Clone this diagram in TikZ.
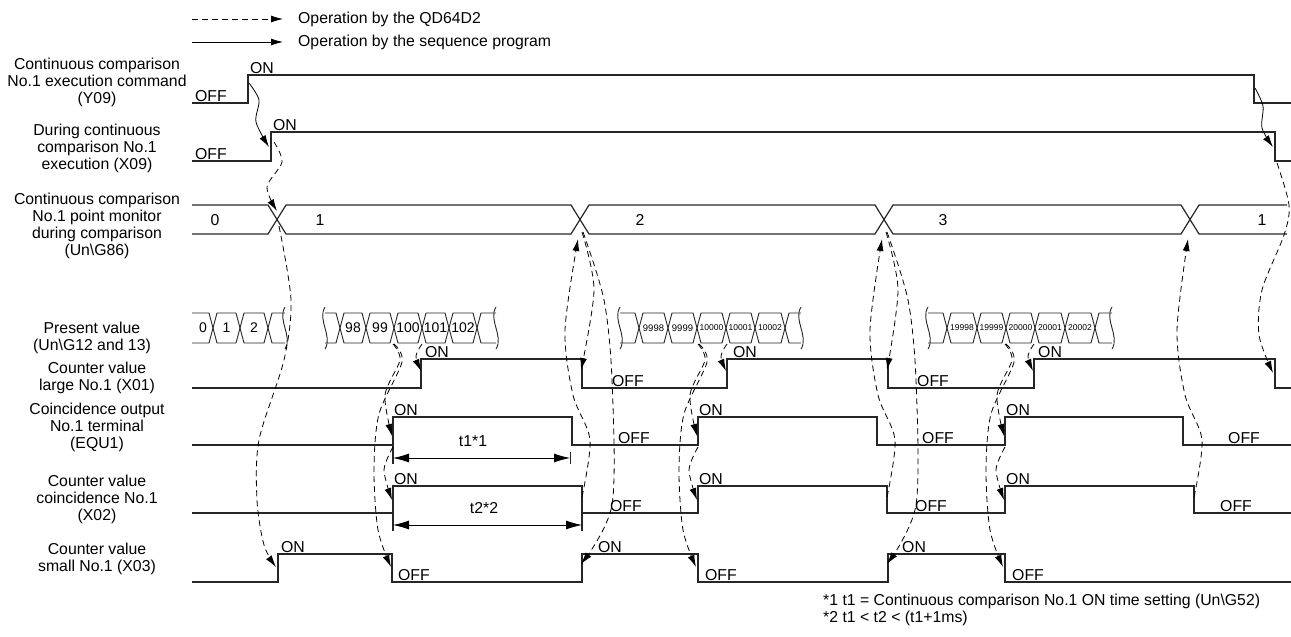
\documentclass[tikz,border=0pt]{standalone}
\usepackage{fontspec}
\setmainfont{Liberation Sans}
\usetikzlibrary{arrows.meta}

\tikzset{
  sig/.style={line width=1.2pt, black!85},
  bus/.style={line width=0.9pt, black!85},
  flow/.style={->, line width=0.8pt, dash pattern=on 6pt off 4pt},
  seq/.style={->, line width=0.8pt},
  dim/.style={{Latex[length=16pt,width=9pt]}-{Latex[length=16pt,width=9pt]}, line width=0.8pt},
  lbl/.style={align=center, inner sep=0pt, font=\fontsize{15.8}{17}\selectfont},
  st/.style={anchor=base west, inner sep=0pt, font=\fontsize{15.8}{17}\selectfont}
}
\newcommand{\pvcell}[4]{%
  \draw[bus] (#1,328) -- (#1+4,313) -- (#2-4,313) -- (#2,328) -- (#2-4,343) -- (#1+4,343) -- cycle;
  \node[inner sep=0pt,font=\fontsize{#4}{#4}\selectfont] (pv#3) at ({(#1+#2)/2},328) {#3};}
\newcommand{\pvleft}[2]{\draw[bus] (#1,313) -- (#2-4,313) -- (#2,328) -- (#2-4,343) -- (#1,343);}
\newcommand{\pvright}[2]{\draw[bus] (#2,313) -- (#1+4,313) -- (#1,328) -- (#1+4,343) -- (#2,343);}
\newcommand{\pvbreak}[1]{\draw[bus] (#1,307) .. controls (#1-8,320) and (#1+8,336) .. (#1,349);}

\begin{document}
\begin{tikzpicture}[x=1pt,y=-1pt,>={Latex[length=12pt,width=7pt]}]
  \useasboundingbox (0,0) rectangle (1291,637);

  \coordinate (lq) at (192,19);
  \coordinate (ls) at (192,42);
  \node[st,anchor=west] (lgq) at (298,19) {Operation by the QD64D2};
  \node[st,anchor=west] (lgs) at (298,42) {Operation by the sequence program};
  \draw[flow] (lq) -- ([xshift=-15pt]lgq.west);
  \draw[seq] (ls) -- ([xshift=-15pt]lgs.west);

  \node[lbl] (ly09) at (97,82) {Continuous comparison\\No.1 execution command\\(Y09)};
  \node[lbl] (lx09) at (97,148) {During continuous\\comparison No.1\\execution (X09)};
  \node[lbl] (lg86) at (97,226) {Continuous comparison\\No.1 point monitor\\during comparison\\(Un\textbackslash G86)};
  \node[lbl] (lpv) at (92,338) {Present value\\(Un\textbackslash G12 and 13)};
  \node[lbl] (lx01) at (97,378) {Counter value\\large No.1 (X01)};
  \node[lbl] (lequ) at (97,427) {Coincidence output\\No.1 terminal\\(EQU1)};
  \node[lbl] (lx02) at (97,499) {Counter value\\coincidence No.1\\(X02)};
  \node[lbl] (lx03) at (97,559) {Counter value\\small No.1 (X03)};

  \draw[sig] (192,103) -- (248,103) -- (248,75) -- (1254,75) -- (1254,103) -- (1291,103);
  \draw[sig] (192,161) -- (271,161) -- (271,132) -- (1275,132) -- (1275,161) -- (1291,161);
  \draw[sig] (192,388) -- (421,388) -- (421,359) -- (582,359) -- (582,388) -- (727,388) -- (727,359)
    -- (888,359) -- (888,388) -- (1034,388) -- (1034,359) -- (1275,359) -- (1275,388) -- (1291,388);
  \draw[sig] (192,445) -- (393,445) -- (393,417) -- (572,417) -- (572,445) -- (698,445) -- (698,417)
    -- (877,417) -- (877,445) -- (1005,445) -- (1005,417) -- (1183,417) -- (1183,445) -- (1291,445);
  \draw[sig] (192,513) -- (393,513) -- (393,486) -- (582,486) -- (582,513) -- (698,513) -- (698,486)
    -- (887,486) -- (887,513) -- (1005,513) -- (1005,486) -- (1194,486) -- (1194,513) -- (1291,513);
  \draw[sig] (192,582) -- (278,582) -- (278,554) -- (392,554) -- (392,582) -- (582,582) -- (582,554)
    -- (698,554) -- (698,582) -- (888,582) -- (888,554) -- (1005,554) -- (1005,582) -- (1291,582);

  \foreach \x/\y/\t [count=\i] in {250/73/ON, 195/101/OFF, 273/130/ON, 195/159/OFF,
      425/357/ON, 733/357/ON, 1038/357/ON, 612/386/OFF, 917/386/OFF,
      394/415/ON, 699/415/ON, 1006/415/ON, 618/443/OFF, 922/443/OFF, 1228/443/OFF,
      394/484/ON, 699/484/ON, 1006/484/ON, 610/511/OFF, 915/511/OFF, 1220/511/OFF,
      281/552/ON, 598/552/ON, 902/552/ON, 398/580/OFF, 705/580/OFF, 1012/580/OFF}
    \node[st] (s\i) at (\x,\y) {\t};

  \draw[sig] (192,205) -- (268,205) -- (286,234) -- (571,234) -- (589,205) -- (875,205) -- (893,234)
    -- (1181,234) -- (1199,205) -- (1287,205);
  \draw[sig] (192,234) -- (268,234) -- (286,205) -- (571,205) -- (589,234) -- (875,234) -- (893,205)
    -- (1181,205) -- (1199,234) -- (1287,234);
  \node[st,anchor=center] (g0) at (215,220) {0};
  \node[st,anchor=center] (g1) at (320,220) {1};
  \node[st,anchor=center] (g2) at (640,220) {2};
  \node[st,anchor=center] (g3) at (943,220) {3};
  \node[st,anchor=center] (g4) at (1262,220) {1};

  \pvleft{192}{213}
  \node[inner sep=0pt,font=\fontsize{14}{14}\selectfont] (pv0) at (203,328) {0};
  \pvcell{213}{240}{1}{14} \pvcell{240}{268}{2}{14}
  \pvright{268}{285} \pvbreak{285}
  \pvbreak{325} \pvleft{325}{340}
  \pvcell{340}{366}{98}{14} \pvcell{366}{394}{99}{14} \pvcell{394}{422}{100}{14}
  \pvcell{422}{449}{101}{14} \pvcell{449}{477}{102}{14}
  \pvright{477}{496} \pvbreak{496}
  \pvbreak{620} \pvleft{620}{639}
  \pvcell{639}{668}{9998}{9.5} \pvcell{668}{697}{9999}{9.5} \pvcell{697}{726}{10000}{8.5}
  \pvcell{726}{755}{10001}{8.5} \pvcell{755}{785}{10002}{8.5}
  \pvright{785}{801} \pvbreak{801}
  \pvbreak{928} \pvleft{928}{947}
  \pvcell{947}{977}{19998}{8.5} \pvcell{977}{1006}{19999}{8.5} \pvcell{1006}{1035}{20000}{8.5}
  \pvcell{1035}{1065}{20001}{8.5} \pvcell{1065}{1095}{20002}{8.5}
  \pvright{1095}{1112} \pvbreak{1112}

  \draw[sig] (393,445) -- (393,464);
  \draw[bus] (570,452) -- (570,464);
  \draw[dim] (393,458) -- (570,458);
  \node[st,anchor=center] (t1) at (473,441) {t1*1};
  \draw[sig] (393,513) -- (393,531);
  \draw[sig] (582,513) -- (582,531);
  \draw[dim] (393,525) -- (582,525);
  \node[st,anchor=center] (t2) at (484,508) {t2*2};

  \draw[seq] plot[smooth] coordinates {(249,83) (259,100) (256,122) (269,147)};
  \draw[seq] plot[smooth] coordinates {(1255,88) (1263,106) (1262,128) (1273,147)};
  \draw[flow] plot[smooth] coordinates {(274,142) (282,162) (267,187) (277,211)};
  \draw[flow] plot[smooth] coordinates {(279,226) (291,300) (284,360) (259,440) (257,500) (264,545) (276,567)};
  \draw[flow] plot[smooth] coordinates {(1277,163) (1289,205) (1284,235) (1262,290) (1259,335) (1273,373)};

  \foreach \xa/\xb/\xc/\xf in {393/422/580/582, 698/727/884/887, 1005/1034/1190/1194}{
    \draw[flow] plot[smooth] coordinates {(\xa,344) (\xa+7,360) (\xa-8,395) (\xa-1,436)};
    \draw[flow] plot[smooth] coordinates {(\xa,447) (\xa-9,470) (\xa-1,500)};
    \draw[flow] plot[smooth] coordinates {(\xa+1,344) (\xa+9,362) (\xa-14,414) (\xa-19,470) (\xa-15,530) (\xa-2,567)};
    \draw[flow] plot[smooth] coordinates {(\xb,344) (\xb-6,356) (\xb-1,371)};
    \draw[flow] plot[smooth] coordinates {(\xf,497) (\xf+8,440) (\xf-9,395) (\xf-17,330) (\xc-2,239)};
  }
  \foreach \xc/\xf in {580/582, 884/888}{
    \draw[flow] plot[smooth] coordinates {(\xc+2,232) (\xc+14,290) (\xf-1,370)};
    \draw[flow] plot[smooth] coordinates {(\xc+3,232) (\xc+24,300) (\xc+32,380) (\xc+32,505) (\xf-1,564)};
  }

  \node[st,anchor=north west,align=left] (fn) at (823,594)
    {*1 t1 = Continuous comparison No.1 ON time setting (Un\textbackslash G52)\\*2 t1 < t2 < (t1+1ms)};
\end{tikzpicture}
\end{document}
